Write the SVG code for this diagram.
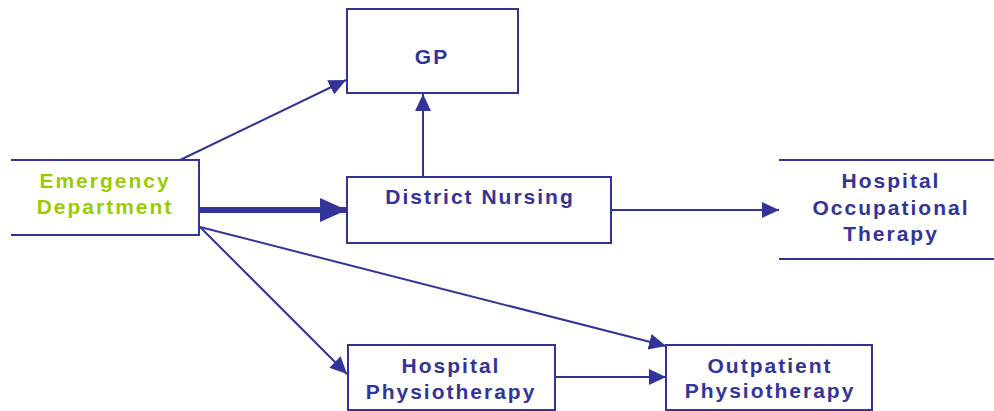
<svg xmlns="http://www.w3.org/2000/svg" width="994" height="411" viewBox="0 0 994 411">
  <defs>
    <style>
      .box { fill: none; stroke: #333399; stroke-width: 2; }
      .lbl { font-family: "Liberation Sans", Arial, sans-serif; font-size: 21px; font-weight: bold; letter-spacing: 2px; fill: #333399; text-anchor: middle; }
      .green { fill: #99cc00; }
      .conn { fill: none; stroke: #333399; stroke-width: 2; }
      .thick { stroke-width: 6; }
    </style>
    <marker id="arrow" markerUnits="userSpaceOnUse" markerWidth="18" markerHeight="16" refX="17" refY="8" orient="auto">
      <path d="M0,0 L17,8 L0,16 Z" fill="#333399"/>
    </marker>
    <marker id="arrowBig" markerUnits="userSpaceOnUse" markerWidth="28" markerHeight="24" refX="27" refY="12" orient="auto">
      <path d="M0,0 L27,12 L0,24 Z" fill="#333399"/>
    </marker>
  </defs>

  <!-- connectors -->
  <g id="connectors">
    <line class="conn" x1="180" y1="160" x2="346" y2="80" stroke-width="1.5" marker-end="url(#arrow)"/>
    <line class="conn" x1="423" y1="176" x2="423" y2="94" marker-end="url(#arrow)"/>
    <line class="conn thick" x1="199" y1="210" x2="347" y2="210" marker-end="url(#arrowBig)"/>
    <line class="conn" x1="611" y1="210" x2="779" y2="210" marker-end="url(#arrow)"/>
    <line class="conn" x1="200" y1="227" x2="347" y2="374" stroke-width="1.5" marker-end="url(#arrow)"/>
    <line class="conn" x1="200" y1="227" x2="666" y2="346" stroke-width="1.8" marker-end="url(#arrow)"/>
    <line class="conn" x1="555" y1="377" x2="666" y2="377" marker-end="url(#arrow)"/>
  </g>

  <!-- Emergency Department: open on the left -->
  <g id="emergency">
    <path class="box" d="M11,160 H199 V235 H11"/>
    <text class="lbl green" x="105" y="188">Emergency</text>
    <text class="lbl green" x="105" y="214">Department</text>
  </g>

  <g id="gp">
    <rect class="box" x="347" y="9" width="171" height="84"/>
    <text class="lbl" x="432" y="64">GP</text>
  </g>

  <g id="district-nursing">
    <rect class="box" x="347" y="177" width="264" height="66"/>
    <text class="lbl" x="480" y="204">District Nursing</text>
  </g>

  <!-- Hospital Occupational Therapy: top and bottom rules only -->
  <g id="occupational-therapy">
    <line class="box" x1="779" y1="160" x2="994" y2="160"/>
    <line class="box" x1="779" y1="259" x2="994" y2="259"/>
    <text class="lbl" x="891" y="188">Hospital</text>
    <text class="lbl" x="891" y="215">Occupational</text>
    <text class="lbl" x="891" y="241">Therapy</text>
  </g>

  <g id="hospital-physio">
    <rect class="box" x="348" y="345" width="207" height="65"/>
    <text class="lbl" x="451" y="373">Hospital</text>
    <text class="lbl" x="451" y="399">Physiotherapy</text>
  </g>

  <g id="outpatient-physio">
    <rect class="box" x="666" y="345" width="206" height="65"/>
    <text class="lbl" x="770" y="373">Outpatient</text>
    <text class="lbl" x="770" y="398">Physiotherapy</text>
  </g>
</svg>
